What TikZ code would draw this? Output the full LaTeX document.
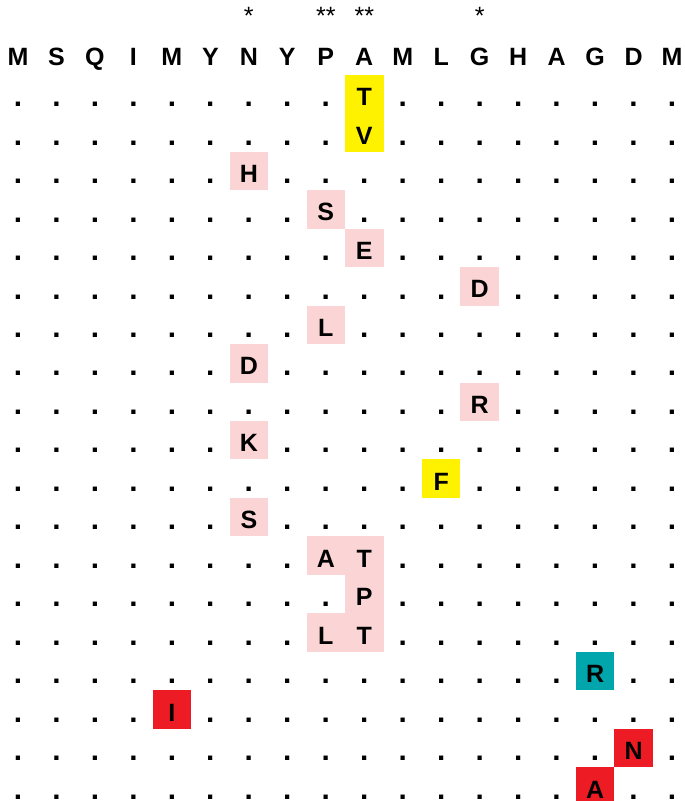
\documentclass[tikz,border=0pt]{standalone}
\usepackage{fontspec}
\setmainfont{Liberation Sans}
\usepackage{xcolor}
\usetikzlibrary{positioning}
\definecolor{hlyellow}{RGB}{255,242,0}
\definecolor{hlpink}{RGB}{251,213,213}
\definecolor{hlteal}{RGB}{0,166,172}
\definecolor{hlred}{RGB}{237,28,36}
\tikzset{
  cell/.style={minimum size=1cm, inner sep=0pt, text height=0.6cm, text depth=0pt,
               font=\bfseries\fontsize{18.5}{20}\selectfont},
  gap/.style={inner sep=0pt, anchor=base, font=\bfseries\fontsize{22}{24}\selectfont},
  starlbl/.style={inner sep=0pt, text depth=0pt, font=\fontsize{18.5}{20}\selectfont}
}

\begin{document}
\begin{tikzpicture}

    % Page frame
    \useasboundingbox (0,0) rectangle (17.78,-20.82);

    % Header sequence
    \foreach \res [count=\cl from 0] in {M,S,Q,I,M,Y,N,Y,P,A,M,L,G,H,A,G,D,M}
        \node[cell] (hd-\cl) at (0.468+\cl,-1.41) {\res};

    % Conservation stars above the header
    \foreach \cl/\st in {6/*,8/**,9/**,12/*}
        \node[starlbl, above=0.25cm of hd-\cl] (st-\cl) {\st};

    % Highlighted residues (column/row/letter/colour)
    \foreach \cl/\rw/\res/\fc in {9/1/T/hlyellow, 9/2/V/hlyellow, 6/3/H/hlpink,
            8/4/S/hlpink, 9/5/E/hlpink, 12/6/D/hlpink, 8/7/L/hlpink, 6/8/D/hlpink,
            12/9/R/hlpink, 6/10/K/hlpink, 11/11/F/hlyellow, 6/12/S/hlpink,
            8/13/A/hlpink, 9/13/T/hlpink, 9/14/P/hlpink, 8/15/L/hlpink,
            9/15/T/hlpink, 15/16/R/hlteal, 4/17/I/hlred, 16/18/N/hlred,
            15/19/A/hlred} {
        \node[cell, fill=\fc] (r\rw-c\cl) at (0.468+\cl,-1.443-\rw) {\res};
        \expandafter\gdef\csname hl-\rw-\cl\endcsname{}
    }

    % Dots for unchanged positions
    \foreach \rw in {1,...,19}
        \foreach \cl in {0,...,17} {
            \ifcsname hl-\rw-\cl\endcsname\else
                \node[gap] (r\rw-c\cl) at (0.468+\cl,-1.773-\rw) {.};
            \fi
        }

\end{tikzpicture}
\end{document}
